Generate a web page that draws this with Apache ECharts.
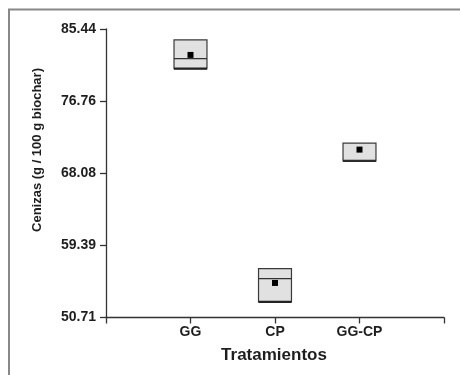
<!DOCTYPE html>
<html>
<head>
<meta charset="utf-8">
<style>
html,body{margin:0;padding:0;background:#fff;}
#chart{width:460px;height:375px;}
</style>
<script src="https://cdn.jsdelivr.net/npm/echarts@6/dist/echarts.min.js"></script>
</head>
<body>
<div id="chart"></div>
<script>
// Data
var categories = ['GG', 'CP', 'GG-CP'];
var boxLow    = [80.67, 52.59, 69.57];
var boxHigh   = [84.12, 56.59, 71.70];
var medians   = [81.87, 55.39, 69.57];
var means     = [82.32, 54.87, 70.92];
var yTickLabels = ['50.71', '59.39', '68.08', '76.76', '85.44'];
var yMin = 50.71, yMax = 85.44;

var FONT = '"Liberation Sans", Arial, sans-serif';
var TXT = '#1e1e1e';

var chart = echarts.init(document.getElementById('chart'), null, {renderer: 'canvas'});

var boxData = categories.map(function (c, i) {
  return [i + 1, boxLow[i], boxHigh[i], medians[i], means[i]];
});

var interval = (yMax - yMin) / (yTickLabels.length - 1);

chart.setOption({
  animation: false,
  backgroundColor: '#fff',
  grid: {left: 106, right: 16, top: 29, bottom: 57.5, containLabel: false},
  xAxis: {
    type: 'value', min: 0, max: 4, interval: 1,
    axisLine: {show: true, onZero: false, lineStyle: {color: '#333', width: 1.3}},
    axisTick: {show: true, length: 6, lineStyle: {color: '#333', width: 1.3}},
    splitLine: {show: false},
    axisLabel: {
      margin: 8, color: TXT, fontFamily: FONT, fontWeight: 'bold', fontSize: 14,
      formatter: function (v) { var k = Math.round(v); return (k >= 1 && k <= categories.length) ? categories[k - 1] : ''; }
    }
  },
  yAxis: {
    type: 'value', min: yMin, max: yMax, interval: interval,
    axisLine: {show: true, lineStyle: {color: '#333', width: 1.3}},
    axisTick: {show: true, length: 6, lineStyle: {color: '#333', width: 1.3}},
    splitLine: {show: false},
    axisLabel: {
      margin: 10, color: TXT, fontFamily: FONT, fontWeight: 'bold', fontSize: 14,
      formatter: function (v) { var k = Math.round((v - yMin) / interval); return yTickLabels[k] !== undefined ? yTickLabels[k] : ''; }
    }
  },
  graphic: [
    {type: 'polyline', shape: {points: [[9, 375], [9, 9.5], [460, 9.5]]}, style: {stroke: '#888', lineWidth: 2, fill: null}, silent: true},
    {type: 'text', x: 37, y: 150, rotation: Math.PI / 2,
      style: {text: 'Cenizas (g / 100 g biochar)', fill: TXT, font: 'bold 13px ' + FONT, textAlign: 'center', textVerticalAlign: 'middle'}},
    {type: 'text', x: 274, y: 355,
      style: {text: 'Tratamientos', fill: TXT, font: 'bold 17px ' + FONT, textAlign: 'center', textVerticalAlign: 'middle'}}
  ],
  series: [{
    type: 'custom',
    data: boxData,
    encode: {x: 0, y: [1, 2, 3, 4]},
    renderItem: function (params, api) {
      var x = api.value(0);
      var halfW = api.size([0.39, 0])[0] / 2;
      var pLow = api.coord([x, api.value(1)]);
      var pHigh = api.coord([x, api.value(2)]);
      var pMed = api.coord([x, api.value(3)]);
      var pMean = api.coord([x, api.value(4)]);
      var cx = pLow[0];
      return {
        type: 'group',
        children: [
          {type: 'rect', shape: {x: cx - halfW, y: pHigh[1], width: 2 * halfW, height: pLow[1] - pHigh[1]},
            style: {fill: '#e1e1e1', stroke: '#3a3a3a', lineWidth: 1.2}},
          {type: 'line', shape: {x1: cx - halfW, y1: pLow[1], x2: cx + halfW, y2: pLow[1]},
            style: {stroke: '#222', lineWidth: 2.2}},
          {type: 'line', shape: {x1: cx - halfW, y1: pMed[1], x2: cx + halfW, y2: pMed[1]},
            style: {stroke: '#333', lineWidth: 1.2}},
          {type: 'rect', shape: {x: cx - 3, y: pMean[1] - 3, width: 6, height: 6},
            style: {fill: '#000'}}
        ]
      };
    }
  }]
});
</script>
</body>
</html>
